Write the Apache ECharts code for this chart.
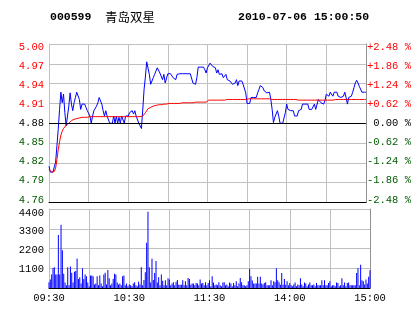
<!DOCTYPE html>
<html><head><meta charset="utf-8">
<script src="https://cdn.jsdelivr.net/npm/echarts@6/dist/echarts.min.js"></script>
<style>html,body{margin:0;padding:0;background:#fff}#c{width:414px;height:314px}</style>
</head><body><div id="c"></div>
<script>
const stockCode = '000599';
const stockName = '青岛双星';
const stamp = '2010-07-06 15:00:50';
const prevClose = 4.88;
const priceStep = 0.03;
const timeTicks = [0, 60, 120, 180, 240];
const timeLabels = ['09:30', '10:30', '11:30', '14:00', '15:00'];
const priceLabels = ['4.76','4.79','4.82','4.85','4.88','4.91','4.94','4.97','5.00'];
const pctLabels = ['-2.48 %','-1.86 %','-1.24 %','-0.62 %',' 0.00 %','+0.62 %','+1.24 %','+1.86 %','+2.48 %'];
const volLabels = ['', '1100', '2200', '3300', '4400'];

const price = [
4.815,4.806,4.806,4.806,4.814,4.821,4.846,4.871,4.901,4.927,
4.911,4.924,4.896,4.876,4.891,4.906,4.926,4.909,4.899,4.911,
4.919,4.927,4.927,4.916,4.901,4.909,4.909,4.909,4.904,4.899,
4.899,4.891,4.880,4.891,4.899,4.899,4.906,4.911,4.919,4.919,
4.909,4.899,4.891,4.899,4.891,4.891,4.880,4.880,4.880,4.891,
4.880,4.891,4.880,4.889,4.880,4.891,4.891,4.880,4.891,4.891,
4.891,4.896,4.899,4.899,4.894,4.899,4.891,4.891,4.880,4.876,
4.872,4.900,4.931,4.950,4.973,4.970,4.954,4.939,4.944,4.949,
4.954,4.959,4.964,4.966,4.956,4.954,4.946,4.954,4.941,4.939,
4.955,4.955,4.955,4.955,4.949,4.946,4.946,4.954,4.955,4.955,
4.955,4.955,4.955,4.955,4.955,4.955,4.955,4.955,4.955,4.941,
4.944,4.939,4.949,4.965,4.965,4.965,4.965,4.965,4.961,4.956,
4.964,4.961,4.971,4.974,4.966,4.966,4.964,4.956,4.961,4.954,
4.954,4.955,4.949,4.946,4.954,4.946,4.944,4.944,4.941,4.939,
4.939,4.941,4.946,4.937,4.944,4.941,4.944,4.939,4.936,4.926,
4.910,4.910,4.910,4.919,4.919,4.919,4.919,4.919,4.926,4.931,
4.937,4.937,4.934,4.929,4.931,4.926,4.924,4.927,4.916,4.901,
4.881,4.889,4.894,4.899,4.891,4.880,4.880,4.880,4.880,4.896,
4.909,4.901,4.899,4.899,4.899,4.899,4.891,4.891,4.891,4.899,
4.899,4.901,4.909,4.909,4.909,4.909,4.909,4.901,4.899,4.901,
4.899,4.909,4.901,4.899,4.916,4.916,4.911,4.909,4.909,4.914,
4.924,4.927,4.921,4.927,4.927,4.921,4.927,4.927,4.927,4.921,
4.919,4.919,4.921,4.921,4.927,4.919,4.909,4.919,4.916,4.921,
4.927,4.934,4.941,4.945,4.941,4.936,4.936,4.927,4.927,4.927,
4.927
];

const avgPrice = [
4.810,4.808,4.806,4.806,4.807,4.812,4.825,4.840,4.852,4.862,
4.868,4.872,4.875,4.877,4.879,4.880,4.882,4.884,4.885,4.886,
4.887,4.887,4.888,4.888,4.888,4.889,4.889,4.889,4.889,4.889,
4.890,4.890,4.890,4.890,4.890,4.890,4.890,4.890,4.890,4.890,
4.890,4.890,4.890,4.890,4.890,4.890,4.890,4.890,4.890,4.890,
4.890,4.890,4.890,4.890,4.890,4.890,4.890,4.890,4.890,4.890,
4.890,4.890,4.890,4.890,4.890,4.890,4.890,4.890,4.890,4.890,
4.890,4.891,4.893,4.896,4.899,4.902,4.903,4.904,4.905,4.906,
4.907,4.907,4.907,4.908,4.908,4.908,4.909,4.909,4.909,4.909,
4.910,4.910,4.910,4.910,4.910,4.910,4.910,4.910,4.910,4.910,
4.911,4.911,4.911,4.911,4.911,4.911,4.911,4.911,4.911,4.911,
4.912,4.912,4.912,4.912,4.912,4.912,4.912,4.912,4.912,4.912,
4.915,4.915,4.915,4.915,4.915,4.915,4.915,4.915,4.915,4.915,
4.915,4.915,4.915,4.915,4.915,4.916,4.916,4.916,4.916,4.916,
4.916,4.916,4.916,4.916,4.916,4.916,4.916,4.916,4.916,4.916,
4.917,4.917,4.917,4.917,4.917,4.917,4.917,4.917,4.917,4.917,
4.917,4.917,4.917,4.917,4.917,4.917,4.917,4.917,4.916,4.916,
4.916,4.916,4.916,4.916,4.916,4.916,4.916,4.916,4.916,4.916,
4.916,4.916,4.916,4.916,4.916,4.916,4.916,4.916,4.915,4.915,
4.915,4.915,4.915,4.915,4.915,4.915,4.915,4.915,4.915,4.915,
4.915,4.915,4.915,4.915,4.915,4.915,4.915,4.915,4.915,4.915,
4.915,4.915,4.915,4.915,4.915,4.915,4.916,4.916,4.916,4.916,
4.916,4.916,4.916,4.916,4.916,4.916,4.916,4.916,4.916,4.916,
4.916,4.916,4.916,4.916,4.916,4.916,4.916,4.916,4.916,4.916,
4.916
];

const volume = [
320,470,750,1120,1160,750,750,2950,750,3520,
2100,800,300,150,1150,150,1200,850,300,900,
950,1650,500,600,250,1100,500,750,650,300,
100,700,700,650,200,250,650,150,700,250,
100,750,850,200,1000,550,150,250,500,800,
750,300,200,250,150,650,700,150,250,100,
200,150,100,250,320,150,100,350,200,1160,
150,450,880,2520,4250,1160,300,1630,450,840,
1500,300,600,150,750,400,150,430,150,540,
470,150,250,320,150,350,450,180,180,180,
430,150,380,150,560,500,180,250,250,150,
280,250,150,470,250,280,150,320,150,280,
430,100,650,300,150,200,150,320,150,100,
300,320,150,200,100,300,250,100,280,150,
375,100,250,560,320,150,150,100,150,375,
1070,650,420,250,250,250,620,250,620,250,
200,280,320,150,150,150,430,150,370,320,
1100,430,320,180,840,180,500,180,370,150,
280,150,100,200,300,100,200,150,540,200,
100,300,250,100,200,300,150,150,200,100,
280,150,150,150,430,150,430,150,150,280,
375,100,150,150,100,300,280,100,150,540,
150,300,100,280,300,150,150,150,150,150,
840,1100,150,1290,430,375,200,470,250,620,
990
];

const FONT = 'Liberation Mono';
const FS = 10.5;
const GRID_C = '#c0c0c0';
const RED = '#ff0000', GREEN = '#005a00';
const toStep = p => (p - prevClose) / priceStep;
const lblColor = i => i > 0 ? RED : (i < 0 ? GREEN : '#000');

// label vertical nudges (px) as seen in the reference
const priceNudge = [-2.6, -2.0, -1.3, -0.6, 0, 0.7, 1.4, 2.1, 2.8];
const volNudge = [0, 0.8, 2.0, 2.4, 4.0];
const padFor = d => d >= 0 ? [2 * d, 0, 0, 0] : [0, 0, -2 * d, 0];

const priceRich = {};
priceLabels.forEach((_, k) => {
  priceRich['p' + k] = {fontFamily: FONT, fontSize: FS, color: lblColor(k - 4), padding: padFor(priceNudge[k])};
});
const volRich = {};
volLabels.forEach((_, k) => {
  volRich['v' + k] = {fontFamily: FONT, fontSize: FS, color: '#000', padding: padFor(volNudge[k])};
});

const chart = echarts.init(document.getElementById('c'), null, {renderer: 'canvas'});
chart.setOption({
  animation: false,
  backgroundColor: '#fff',
  graphic: [
    {type: 'text', x: 50, y: 17, style: {text: stockCode, font: 'bold 11.5px "' + FONT + '"', fill: '#000', verticalAlign: 'middle'}},
    {type: 'text', x: 105, y: 17, style: {text: stockName, font: '12.5px "Noto Sans CJK SC"', fill: '#000', verticalAlign: 'middle'}},
    {type: 'text', x: 238, y: 17, style: {text: stamp, font: 'bold 11.5px "' + FONT + '"', fill: '#000', verticalAlign: 'middle'}}
  ],
  grid: [
    {left: 49, top: 44, width: 321, height: 158.5},
    {left: 49, top: 209, width: 321, height: 79}
  ],
  xAxis: [
    {type: 'value', gridIndex: 0, min: 0, max: 240, interval: 30,
     axisLine: {show: true, onZero: false, lineStyle: {color: '#000', width: 1}},
     axisTick: {show: false}, axisLabel: {show: false},
     splitLine: {show: true, lineStyle: {color: GRID_C, width: 1}}},
    {type: 'value', gridIndex: 1, min: 0, max: 240, interval: 30,
     axisLine: {show: true, onZero: false, lineStyle: {color: '#000', width: 1}},
     axisTick: {show: false},
     axisLabel: {show: true, showMinLabel: true, showMaxLabel: true, margin: 5,
       fontFamily: FONT, fontSize: FS, color: '#000',
       formatter: v => { const k = timeTicks.indexOf(Math.round(v)); return k >= 0 ? timeLabels[k] : ''; }},
     splitLine: {show: true, lineStyle: {color: GRID_C, width: 1}}}
  ],
  yAxis: [
    {type: 'value', gridIndex: 0, min: -4, max: 4, interval: 1, position: 'left',
     axisLine: {show: true, lineStyle: {color: GRID_C}}, axisTick: {show: false},
     axisLabel: {margin: 5, fontFamily: FONT, fontSize: FS,
       showMinLabel: true, showMaxLabel: true, rich: priceRich,
       formatter: v => { const k = Math.round(v) + 4; return '{p' + k + '|' + priceLabels[k] + '}'; }},
     splitLine: {show: true, lineStyle: {color: GRID_C, width: 1}}},
    {type: 'value', gridIndex: 0, min: -4, max: 4, interval: 1, position: 'right',
     axisLine: {show: true, lineStyle: {color: '#909090'}}, axisTick: {show: false},
     axisLabel: {margin: 1, fontFamily: FONT, fontSize: FS,
       showMinLabel: true, showMaxLabel: true, rich: priceRich,
       formatter: v => { const k = Math.round(v) + 4; return '{p' + k + '|' + pctLabels[k] + '}'; }},
     splitLine: {show: false}},
    {type: 'value', gridIndex: 1, min: 0, max: 4400, interval: 1100, position: 'left',
     axisLine: {show: true, lineStyle: {color: GRID_C}}, axisTick: {show: false},
     axisLabel: {margin: 5, fontFamily: FONT, fontSize: FS, color: '#000',
       showMinLabel: true, showMaxLabel: true, rich: volRich,
       formatter: v => { const k = Math.round(v / 1100); return volLabels[k] ? '{v' + k + '|' + volLabels[k] + '}' : ''; }},
     splitLine: {show: true, lineStyle: {color: GRID_C, width: 1}}},
    {type: 'value', gridIndex: 1, min: 0, max: 4400, interval: 1100, position: 'right',
     axisLine: {show: true, lineStyle: {color: '#909090'}}, axisTick: {show: false},
     axisLabel: {show: false}, splitLine: {show: false}}
  ],
  series: [
    {type: 'line', xAxisIndex: 0, yAxisIndex: 0, showSymbol: false, symbol: 'none',
     data: price.map((p, i) => [i, toStep(p)]),
     lineStyle: {color: '#0000ff', width: 1}, itemStyle: {color: '#0000ff'}, z: 3,
     markLine: {silent: true, symbol: 'none', label: {show: false},
       lineStyle: {color: '#000', width: 1, type: 'solid'}, data: [{yAxis: 0}]}},
    {type: 'line', xAxisIndex: 0, yAxisIndex: 0, showSymbol: false, symbol: 'none',
     data: avgPrice.map((p, i) => [i, toStep(p)]),
     lineStyle: {color: '#ff0000', width: 1}, itemStyle: {color: '#ff0000'}, z: 4},
    {type: 'bar', xAxisIndex: 1, yAxisIndex: 2, barWidth: 1,
     data: volume.map((v, i) => [i, v]),
     itemStyle: {color: '#0000ff'}}
  ]
});
</script>
</body></html>
